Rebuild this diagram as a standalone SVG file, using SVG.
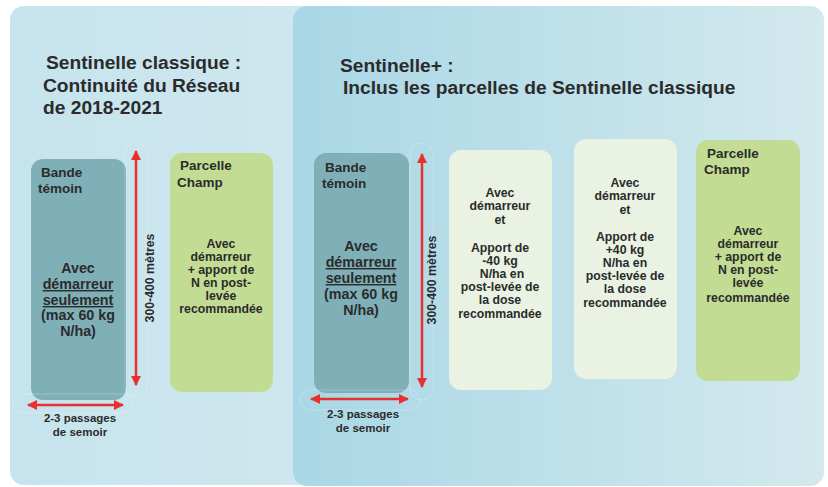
<svg xmlns="http://www.w3.org/2000/svg" width="828" height="487" viewBox="0 0 828 487">
<defs>
<linearGradient id="gl" x1="0" y1="0" x2="1" y2="0"><stop offset="0" stop-color="#c6e4ee"/><stop offset="1" stop-color="#d2e8ee"/></linearGradient>
<linearGradient id="gr" x1="0" y1="0" x2="1" y2="0"><stop offset="0" stop-color="#a9d7e5"/><stop offset="1" stop-color="#d3e9ee"/></linearGradient>
<marker id="ah" viewBox="0 0 10 10" refX="9" refY="5" markerWidth="4" markerHeight="4" orient="auto-start-reverse" markerUnits="strokeWidth"><path d="M0,0 L10,5 L0,10 Z" fill="#e8302f"/></marker>
<style>
text{font-family:"Liberation Sans",Arial,sans-serif;font-weight:bold;fill:#2b2b2b}
.title{font-size:19.2px}
.hd{font-size:13.5px}
.bd{font-size:14.3px;text-anchor:middle}
.sm{font-size:12.3px;text-anchor:middle}
.lb{font-size:11.5px;text-anchor:middle}
.vt{font-size:12.3px;text-anchor:middle}
.arr{stroke:#e8302f;stroke-width:2.5;fill:none;marker-start:url(#ah);marker-end:url(#ah)}
.ghost{fill:none;stroke:#ffffff;stroke-opacity:0.28;stroke-width:0.8}
.u{text-decoration:underline}
</style>
</defs>
<g id="panel-left">
<rect x="10" y="6" width="420" height="479" rx="14" fill="url(#gl)"/>
<text class="title" x="46" y="69">Sentinelle classique :</text>
<text class="title" x="43" y="92">Continuité du Réseau</text>
<text class="title" x="43" y="114">de 2018-2021</text>
</g>
<g id="panel-right">
<rect x="293" y="6" width="531" height="480" rx="14" fill="url(#gr)"/>
<text class="title" x="340" y="72">Sentinelle+ :</text>
<text class="title" x="343" y="94">Inclus les parcelles de Sentinelle classique</text>
</g>
<g id="bande-temoin-1">
<rect x="31" y="159" width="95" height="241" rx="12" fill="#7fb0b8"/>
<text class="hd" x="41" y="177">Bande</text>
<text class="hd" x="38" y="193">témoin</text>
<text class="bd" x="78" y="273">Avec</text>
<text class="bd u" x="78" y="289">démarreur</text>
<text class="bd u" x="78" y="305">seulement</text>
<text class="bd" x="78" y="320">(max 60 kg</text>
<text class="bd" x="78" y="336">N/ha)</text>
</g>
<g id="parcelle-champ-1">
<rect x="170" y="153" width="103" height="239" rx="12" fill="#c3dc94"/>
<text class="hd" x="180" y="170">Parcelle</text>
<text class="hd" x="177" y="187">Champ</text>
<text class="sm" x="221" y="248">Avec</text>
<text class="sm" x="221" y="261">démarreur</text>
<text class="sm" x="221" y="274">+ apport de</text>
<text class="sm" x="221" y="287">N en post-</text>
<text class="sm" x="221" y="300">levée</text>
<text class="sm" x="221" y="313">recommandée</text>
</g>
<g id="bande-temoin-2">
<rect x="314" y="153" width="95" height="240" rx="12" fill="#7fb0b8"/>
<text class="hd" x="325" y="172">Bande</text>
<text class="hd" x="322" y="188">témoin</text>
<text class="bd" x="361" y="251">Avec</text>
<text class="bd u" x="361" y="267">démarreur</text>
<text class="bd u" x="361" y="283">seulement</text>
<text class="bd" x="361" y="299">(max 60 kg</text>
<text class="bd" x="361" y="315">N/ha)</text>
</g>
<g id="box-moins-40">
<rect x="449" y="150" width="103" height="240" rx="12" fill="#eaf3e3"/>
<text class="sm" x="500" y="197">Avec</text>
<text class="sm" x="500" y="210">démarreur</text>
<text class="sm" x="500" y="224">et</text>
<text class="sm" x="500" y="252">Apport de</text>
<text class="sm" x="500" y="265">-40 kg</text>
<text class="sm" x="502" y="278">N/ha en</text>
<text class="sm" x="500" y="291">post-levée de</text>
<text class="sm" x="500" y="304">la dose</text>
<text class="sm" x="500" y="318">recommandée</text>
</g>
<g id="box-plus-40">
<rect x="574" y="139" width="103" height="240" rx="12" fill="#eaf3e3"/>
<text class="sm" x="625" y="187">Avec</text>
<text class="sm" x="625" y="200">démarreur</text>
<text class="sm" x="625" y="214">et</text>
<text class="sm" x="625" y="241">Apport de</text>
<text class="sm" x="625" y="254">+40 kg</text>
<text class="sm" x="625" y="267">N/ha en</text>
<text class="sm" x="625" y="280">post-levée de</text>
<text class="sm" x="625" y="293">la dose</text>
<text class="sm" x="625" y="307">recommandée</text>
</g>
<g id="parcelle-champ-2">
<rect x="696" y="140" width="104" height="241" rx="12" fill="#c3dc94"/>
<text class="hd" x="707" y="158">Parcelle</text>
<text class="hd" x="704" y="174">Champ</text>
<text class="sm" x="748" y="235">Avec</text>
<text class="sm" x="748" y="248">démarreur</text>
<text class="sm" x="748" y="261">+ apport de</text>
<text class="sm" x="748" y="274">N en post-</text>
<text class="sm" x="748" y="287">levée</text>
<text class="sm" x="748" y="302">recommandée</text>
</g>
<g id="connectors">
<rect class="ghost" x="125" y="143" width="22" height="255" rx="11"/>
<rect class="ghost" x="13" y="394" width="120" height="19" rx="9.5"/>
<line class="arr" x1="136" y1="151" x2="136" y2="385"/>
<line class="arr" x1="28" y1="405" x2="123" y2="405"/>
<text class="vt" transform="translate(154 278) rotate(-90)">300-400 mètres</text>
<text class="lb" x="80" y="422">2-3 passages</text>
<text class="lb" x="80" y="436">de semoir</text>
<rect class="ghost" x="410" y="143" width="23" height="257" rx="11"/>
<rect class="ghost" x="300" y="390" width="120" height="20" rx="10"/>
<line class="arr" x1="422" y1="154" x2="422" y2="387"/>
<line class="arr" x1="311" y1="399" x2="408" y2="399"/>
<text class="vt" transform="translate(436 280) rotate(-90)">300-400 mètres</text>
<text class="lb" x="363" y="418">2-3 passages</text>
<text class="lb" x="363" y="432">de semoir</text>
</g>
</svg>
